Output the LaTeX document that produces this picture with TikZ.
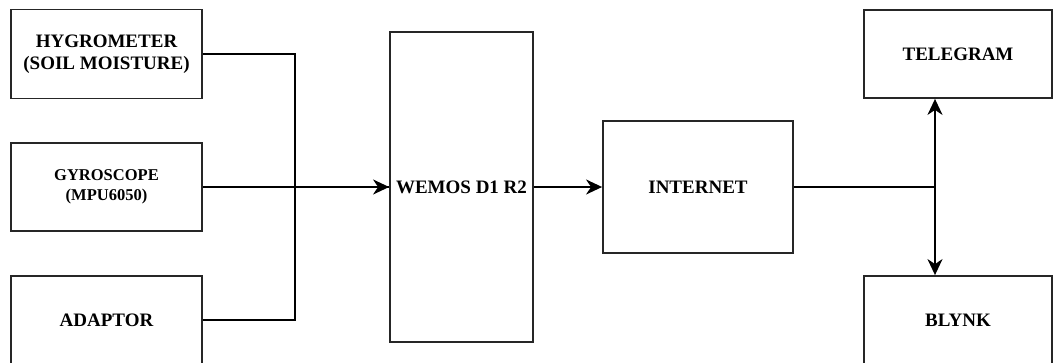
\documentclass[tikz,border=0pt]{standalone}
\usepackage{fontspec}
\setmainfont{Liberation Serif}
\usetikzlibrary{arrows.meta}
\begin{document}
\begin{tikzpicture}[x=1pt,y=-1pt,font=\bfseries\fontsize{19}{22}\selectfont,
  blok/.style={draw=black!85,line width=1.8pt,align=center,inner sep=0pt},
  wire/.style={draw=black,line width=1.8pt},
  tip/.style={-{Stealth[length=16pt,width=15pt,inset=5pt]}}]
\useasboundingbox (0,0) rectangle (1053,362);

% sensors and supply
\node[blok,minimum width=191pt,minimum height=89pt] (hygro) at (106.5,54) {HYGROMETER\\(SOIL MOISTURE)};
\node[blok,minimum width=191pt,minimum height=88pt,font=\bfseries\fontsize{16.5}{20}\selectfont] (gyro) at (106.5,187) {GYROSCOPE\\(MPU6050)};
\node[blok,minimum width=191pt,minimum height=88pt] (adaptor) at (106.5,320) {ADAPTOR};

% board and network
\node[blok,minimum width=143pt,minimum height=310pt] (wemos) at (461.5,187) {WEMOS D1 R2};
\node[blok,minimum width=190pt,minimum height=132pt] (internet) at (698,187) {INTERNET};
\node[blok,minimum width=188pt,minimum height=88pt] (telegram) at (958,54) {TELEGRAM};
\node[blok,minimum width=188pt,minimum height=88pt] (blynk) at (958,320) {BLYNK};

\coordinate (jn) at (295,187);
\coordinate (hub) at (935,187);

\draw[wire] (hygro.east) -| (jn);
\draw[wire] (adaptor.east) -| (jn);
\draw[wire,line width=2.6pt] (jn) -- (wemos.west);
\draw[wire,tip] (gyro.east) -- (wemos.west);
\draw[wire,tip] (wemos.east) -- (internet.west);
\draw[wire] (internet.east) -- (hub);
\draw[wire,tip] (hub) -- (hub |- telegram.south);
\draw[wire,tip] (hub) -- (hub |- blynk.north);

\end{tikzpicture}
\end{document}
